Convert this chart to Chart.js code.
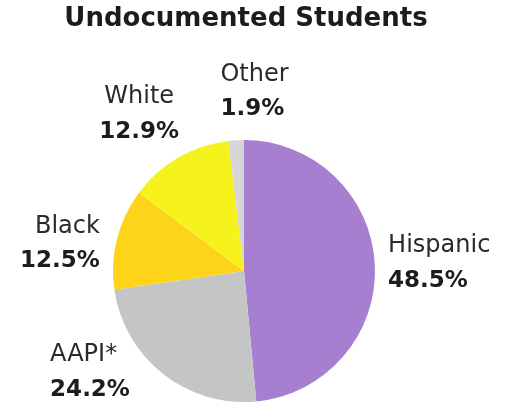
<!DOCTYPE html>
<html>
<head>
<meta charset="utf-8">
<script src="https://cdn.jsdelivr.net/npm/chart.js@4/dist/chart.umd.min.js"></script>
<style>
  html, body { margin: 0; padding: 0; background: #fff; }
  #wrap { width: 505px; height: 406px; }
</style>
</head>
<body>
<div id="wrap"><canvas id="pieChart"></canvas></div>
<script>
// Data (clockwise from the top)
const groups = ['Hispanic', 'AAPI*', 'Black', 'White', 'Other'];
const shares = [48.5, 24.2, 12.5, 12.9, 1.9];
const sliceColors = ['#a77fd1', '#c4c6c6', '#fdd41a', '#f5f21c', '#d6d6d6'];

// Label placement relative to the pie centre, in units of the radius
// [x, y of name line, text align]
const labelSpots = [
    [1.10, -0.19, 'left'],
    [-1.48, 0.64, 'left'],
    [-1.10, -0.34, 'right'],
    [-0.80, -1.33, 'center'],
    [-0.18, -1.50, 'left']
];

const labelPlugin = {
    id: 'pieLabels',
    afterDraw(chart) {
        const ctx = chart.ctx;
        const meta = chart.getDatasetMeta(0);
        const arc = meta.data[0];
        const cx = arc.x, cy = arc.y, r = arc.outerRadius;
        ctx.save();
        ctx.fillStyle = '#1c1c1c';
        ctx.textBaseline = 'middle';

        // title
        ctx.textAlign = 'center';
        ctx.font = 'bold 26px "DejaVu Sans"';
        ctx.fillText('Undocumented Students', 246, 19);

        meta.data.forEach(function(el, i) {
            const spot = labelSpots[i];
            const x = cx + spot[0] * r;
            const y = cy + spot[1] * r;
            ctx.textAlign = spot[2];
            ctx.font = '24px "DejaVu Sans"';
            ctx.fillStyle = '#2a2a2a';
            ctx.fillText(groups[i], x, y);
            ctx.font = 'bold 23px "DejaVu Sans"';
            ctx.fillStyle = '#1c1c1c';
            ctx.fillText(shares[i].toFixed(1) + '%', x, y + 35);
        });
        ctx.restore();
    }
};

document.addEventListener('DOMContentLoaded', function() {
    const pieCtx = document.getElementById('pieChart').getContext('2d');
    const pieChart = new Chart(pieCtx, {
        type: 'pie',
        data: {
            labels: groups,
            datasets: [{
                data: shares,
                backgroundColor: sliceColors,
                borderWidth: 0
            }]
        },
        options: {
            responsive: true,
            maintainAspectRatio: false,
            animation: false,
            layout: {
                padding: { top: 140, bottom: 4, left: 0, right: 17 }
            },
            plugins: {
                legend: { display: false },
                tooltip: { enabled: false },
                title: { display: false }
            }
        },
        plugins: [labelPlugin]
    });
});
</script>
</body>
</html>
